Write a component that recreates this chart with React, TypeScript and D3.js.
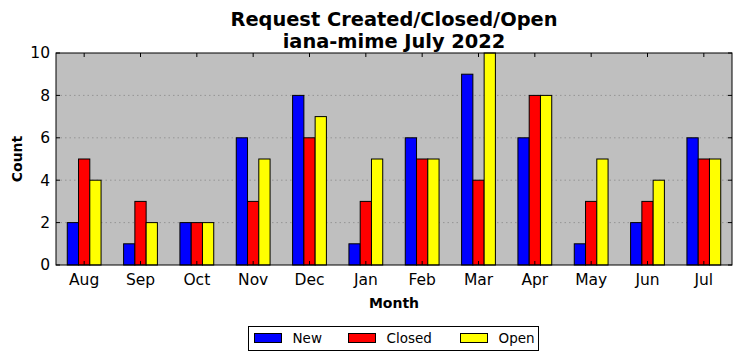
import * as d3 from "d3";
import React from "react";

const months = ["Aug", "Sep", "Oct", "Nov", "Dec", "Jan", "Feb", "Mar", "Apr", "May", "Jun", "Jul"];
const newCounts = [2, 1, 2, 6, 8, 1, 6, 9, 6, 1, 2, 6];
const closedCounts = [5, 3, 2, 3, 6, 3, 5, 4, 8, 3, 3, 5];
const openCounts = [4, 2, 2, 5, 7, 5, 5, 10, 8, 5, 4, 5];
const seriesNames = ["New", "Closed", "Open"];
const seriesColors = ["#0000ff", "#ff0000", "#ffff00"];
const yTicks = [0, 2, 4, 6, 8, 10];

export default function App() {
  const ref = React.useRef<SVGSVGElement>(null);

  React.useEffect(() => {
    if (!ref.current) return;
    const width = 741;
    const height = 361;
    const margin = { top: 53, right: 9, bottom: 96, left: 56 };
    const w = width - margin.left - margin.right;
    const h = height - margin.top - margin.bottom;
    const font = "DejaVu Sans, sans-serif";

    const svg = d3.select(ref.current);
    svg.selectAll("*").remove();

    // タイトル
    svg
      .append("text")
      .attr("x", margin.left + w / 2)
      .attr("y", 26)
      .attr("text-anchor", "middle")
      .attr("font-family", font)
      .attr("font-weight", "bold")
      .attr("font-size", 19.4)
      .text("Request Created/Closed/Open");
    svg
      .append("text")
      .attr("x", margin.left + w / 2)
      .attr("y", 48)
      .attr("text-anchor", "middle")
      .attr("font-family", font)
      .attr("font-weight", "bold")
      .attr("font-size", 19.4)
      .text("iana-mime July 2022");

    const g = svg.append("g").attr("transform", `translate(${margin.left},${margin.top})`);

    const x = d3.scaleBand().domain(months).range([0, w]).padding(0);
    const y = d3.scaleLinear().domain([0, 10]).range([h, 0]);
    const barW = x.bandwidth() * 0.2;

    g.append("rect").attr("width", w).attr("height", h).attr("fill", "#bfbfbf");

    // グリッド
    g.selectAll(".grid")
      .data(yTicks.filter((t) => t > 0 && t < 10))
      .enter()
      .append("line")
      .attr("x1", 0)
      .attr("x2", w)
      .attr("y1", (d) => y(d))
      .attr("y2", (d) => y(d))
      .attr("stroke", "#8a8a8a")
      .attr("stroke-width", 0.8)
      .attr("stroke-dasharray", "1.5,3");

    const series = [newCounts, closedCounts, openCounts];
    series.forEach((vals, si) => {
      g.selectAll(`.bar${si}`)
        .data(vals)
        .enter()
        .append("rect")
        .attr("x", (_, i) => (x(months[i]) || 0) + x.bandwidth() / 2 + (si - 1.5) * barW)
        .attr("y", (d) => y(d))
        .attr("width", barW)
        .attr("height", (d) => h - y(d))
        .attr("fill", seriesColors[si])
        .attr("stroke", "#000")
        .attr("stroke-width", 1);
    });

    // 軸
    const tickLen = 4;
    months.forEach((m) => {
      const cx = (x(m) || 0) + x.bandwidth() / 2;
      g.append("line").attr("x1", cx).attr("x2", cx).attr("y1", h).attr("y2", h - tickLen).attr("stroke", "#000");
      g.append("line").attr("x1", cx).attr("x2", cx).attr("y1", 0).attr("y2", tickLen).attr("stroke", "#000");
      g.append("text")
        .attr("x", cx)
        .attr("y", h + 20)
        .attr("text-anchor", "middle")
        .attr("font-family", font)
        .attr("font-size", 15.5)
        .text(m);
    });
    yTicks.forEach((t) => {
      g.append("line").attr("x1", 0).attr("x2", tickLen).attr("y1", y(t)).attr("y2", y(t)).attr("stroke", "#000");
      g.append("line").attr("x1", w).attr("x2", w - tickLen).attr("y1", y(t)).attr("y2", y(t)).attr("stroke", "#000");
      g.append("text")
        .attr("x", -6)
        .attr("y", y(t))
        .attr("dy", "0.35em")
        .attr("text-anchor", "end")
        .attr("font-family", font)
        .attr("font-size", 15.5)
        .text(t);
    });

    g.append("rect")
      .attr("width", w)
      .attr("height", h)
      .attr("fill", "none")
      .attr("stroke", "#000")
      .attr("stroke-width", 1);

    svg
      .append("text")
      .attr("x", margin.left + w / 2)
      .attr("y", 308)
      .attr("text-anchor", "middle")
      .attr("font-family", font)
      .attr("font-weight", "bold")
      .attr("font-size", 14)
      .text("Month");
    svg
      .append("text")
      .attr("transform", `translate(22,${margin.top + h / 2}) rotate(-90)`)
      .attr("text-anchor", "middle")
      .attr("font-family", font)
      .attr("font-weight", "bold")
      .attr("font-size", 14)
      .text("Count");

    // 凡例
    const legend = svg.append("g").attr("transform", "translate(248.5,326.5)");
    legend.append("rect").attr("width", 290).attr("height", 24).attr("fill", "#fff").attr("stroke", "#000");
    const offsets = [6, 100, 212];
    seriesNames.forEach((name, i) => {
      const lg = legend.append("g").attr("transform", `translate(${offsets[i]},0)`);
      lg.append("rect")
        .attr("x", 0)
        .attr("y", 7)
        .attr("width", 27)
        .attr("height", 9)
        .attr("fill", seriesColors[i])
        .attr("stroke", "#000");
      lg.append("text")
        .attr("x", 38)
        .attr("y", 12)
        .attr("dy", "0.35em")
        .attr("font-family", font)
        .attr("font-size", 13.5)
        .text(name);
    });
  }, []);

  return (
    <svg
      ref={ref}
      width={741}
      height={361}
      style={{ position: "absolute", left: 0, top: 0, background: "#fff" }}
    />
  );
}
